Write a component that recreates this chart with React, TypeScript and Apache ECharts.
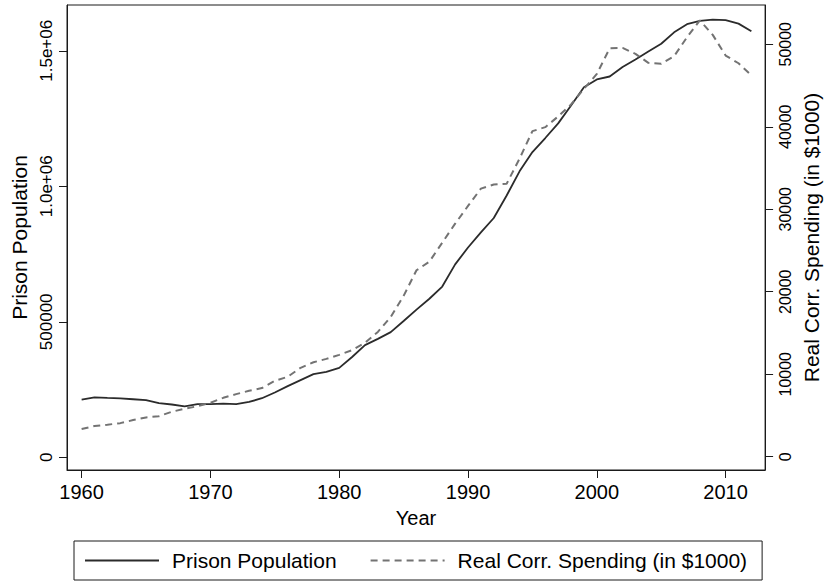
import React, { useEffect, useRef } from "react";
import * as echarts from "echarts";

const years = [
  1960, 1961, 1962, 1963, 1964, 1965, 1966, 1967, 1968, 1969,
  1970, 1971, 1972, 1973, 1974, 1975, 1976, 1977, 1978, 1979,
  1980, 1981, 1982, 1983, 1984, 1985, 1986, 1987, 1988, 1989,
  1990, 1991, 1992, 1993, 1994, 1995, 1996, 1997, 1998, 1999,
  2000, 2001, 2002, 2003, 2004, 2005, 2006, 2007, 2008, 2009,
  2010, 2011, 2012,
];

const prisonPopulation = [
  213000, 221000, 219000, 217300, 214300, 210900, 199700, 194900, 187900, 196000,
  196400, 198000, 196100, 204200, 218000, 239000, 262800, 285000, 307000, 315000,
  330000, 370000, 414000, 437000, 462000, 503000, 545000, 585000, 630000, 712000,
  774000, 830000, 883000, 966000, 1055000, 1126000, 1178000, 1232000, 1298000, 1365000,
  1394000, 1405000, 1440000, 1468000, 1497000, 1526000, 1568000, 1598000, 1610000, 1615000,
  1613000, 1600000, 1572000,
];

const realCorrSpending = [
  3350, 3720, 3880, 4070, 4440, 4760, 4910, 5450, 5820, 6120,
  6540, 7140, 7590, 7990, 8320, 9200, 9690, 10780, 11450, 11860,
  12350, 12920, 13800, 15130, 16950, 19500, 22600, 23650, 25950, 28250,
  30400, 32500, 33000, 33100, 36130, 39470, 39950, 41250, 42700, 44600,
  46400, 49520, 49560, 48840, 47750, 47630, 48550, 50850, 52900, 51140,
  48630, 47700, 46250,
];

const xTickValues = [1960, 1970, 1980, 1990, 2000, 2010];
const leftTickValues = [0, 500000, 1000000, 1500000];
const leftTickLabels = ["0", "500000", "1.0e+06", "1.5e+06"];
const rightTickValues = [0, 10000, 20000, 30000, 40000, 50000];
const rightTickLabels = ["0", "10000", "20000", "30000", "40000", "50000"];

const seriesNames = ["Prison Population", "Real Corr. Spending (in $1000)"];

const FONT = "'Liberation Sans', Helvetica, Arial, sans-serif";
const AXIS = "#1a1a1a";

export default function App() {
  const ref = useRef<HTMLDivElement>(null);

  useEffect(() => {
    if (!ref.current) return;
    const chart = echarts.init(ref.current, undefined, { renderer: "svg" });

    const popData = years.map((y, i) => [y, prisonPopulation[i]]);
    const spendData = years.map((y, i) => [y, realCorrSpending[i]]);

    const axisLineStyle = { color: AXIS, width: 1 };

    chart.setOption({
      animation: false,
      backgroundColor: "#ffffff",
      textStyle: { fontFamily: FONT },
      grid: {
        left: 67,
        right: 61,
        top: 5,
        bottom: 112,
        show: true,
        borderColor: AXIS,
        borderWidth: 1,
        backgroundColor: "transparent",
      },
      legend: {
        left: 74,
        top: 541,
        orient: "horizontal",
        padding: [9, 15, 9, 10],
        itemGap: 33,
        itemWidth: 74,
        itemHeight: 20,
        borderColor: AXIS,
        borderWidth: 1,
        borderRadius: 0,
        itemStyle: { opacity: 0, color: "rgba(0,0,0,0)", borderWidth: 0 },
        textStyle: { fontSize: 21, color: "#000", fontFamily: FONT, padding: [0, 0, 0, 8] },
        data: seriesNames.map((n) => ({ name: n })),
      },
      xAxis: {
        type: "value",
        min: 1958.865,
        max: 2013.065,
        name: "Year",
        nameLocation: "middle",
        nameGap: 38,
        nameTextStyle: { fontSize: 20, color: "#000", fontFamily: FONT },
        axisLine: { show: true, onZero: false, lineStyle: axisLineStyle },
        axisTick: { show: true, length: 8, customValues: xTickValues, lineStyle: axisLineStyle },
        axisLabel: {
          customValues: xTickValues,
          fontSize: 20,
          color: "#000",
          fontFamily: FONT,
          margin: 12,
          formatter: (v: number) => String(v),
        },
        splitLine: { show: false },
      },
      yAxis: [
        {
          type: "value",
          position: "left",
          min: -46800,
          max: 1668800,
          name: "Prison Population",
          nameLocation: "middle",
          nameGap: 31,
          nameRotate: 90,
          nameTextStyle: { fontSize: 21, color: "#000", fontFamily: FONT },
          axisLine: { show: true, onZero: false, lineStyle: axisLineStyle },
          axisTick: { show: true, length: 8, customValues: leftTickValues, lineStyle: axisLineStyle },
          axisLabel: {
            customValues: leftTickValues,
            rotate: 90,
            fontSize: 17,
            color: "#000",
            fontFamily: FONT,
            margin: 12,
            formatter: (v: number) => {
              const i = leftTickValues.indexOf(v);
              return i >= 0 ? leftTickLabels[i] : "";
            },
          },
          splitLine: { show: false },
        },
        {
          type: "value",
          position: "right",
          min: -1610,
          max: 54760,
          name: "Real Corr. Spending (in $1000)",
          nameLocation: "middle",
          nameGap: 35,
          nameRotate: 90,
          nameTextStyle: { fontSize: 21, color: "#000", fontFamily: FONT },
          axisLine: { show: true, onZero: false, lineStyle: axisLineStyle },
          axisTick: { show: true, length: 8, customValues: rightTickValues, lineStyle: axisLineStyle },
          axisLabel: {
            customValues: rightTickValues,
            rotate: 90,
            fontSize: 16,
            color: "#000",
            fontFamily: FONT,
            margin: 12,
            formatter: (v: number) => {
              const i = rightTickValues.indexOf(v);
              return i >= 0 ? rightTickLabels[i] : "";
            },
          },
          splitLine: { show: false },
        },
      ],
      series: [
        {
          name: seriesNames[0],
          type: "line",
          yAxisIndex: 0,
          data: popData,
          symbol: "none",
          showSymbol: false,
          lineStyle: { color: "#2b2b2b", width: 1.8, type: "solid" },
          itemStyle: { color: "#2b2b2b" },
        },
        {
          name: seriesNames[1],
          type: "line",
          yAxisIndex: 1,
          data: spendData,
          symbol: "none",
          showSymbol: false,
          lineStyle: { color: "#737373", width: 2, type: [7, 5] },
          itemStyle: { color: "#737373" },
        },
      ],
    });

    return () => chart.dispose();
  }, []);

  return (
    <div
      ref={ref}
      style={{ position: "fixed", left: 0, top: 0, width: 830, height: 582, background: "#fff" }}
    />
  );
}
